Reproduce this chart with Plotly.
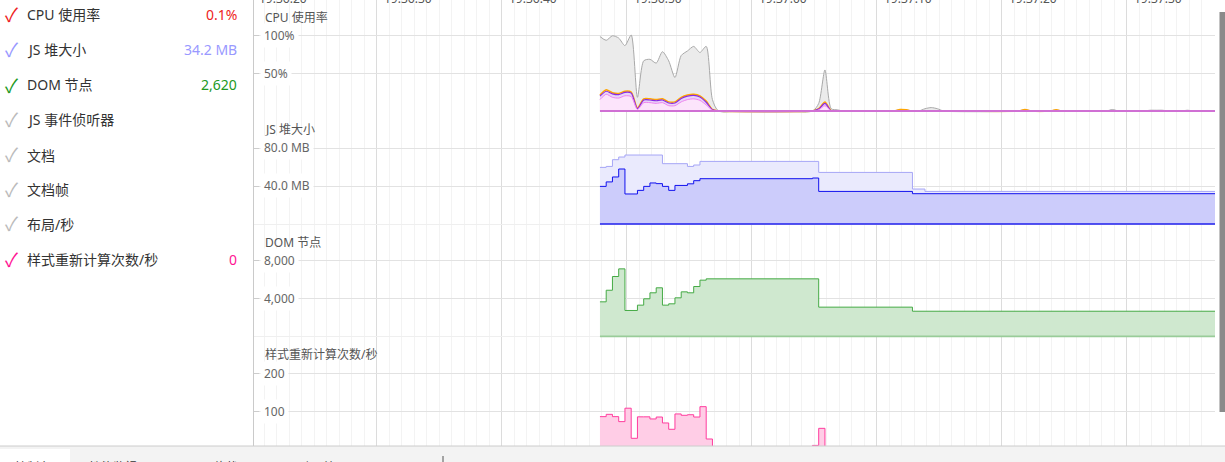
import plotly.graph_objects as go

W, H = 1225, 462

# ---------------- data ----------------
# time in seconds after 19:36:20
time_ticks = [0, 10, 20, 30, 40, 50, 60, 70]
time_labels = ["19:36:20", "19:36:30", "19:36:40", "19:36:50",
               "19:37:00", "19:37:10", "19:37:20", "19:37:30"]

cpu_t = [27.86, 28.36, 28.86, 29.36, 29.86, 30.36, 30.86, 31.36, 31.86, 32.36,
         32.86, 33.36, 33.86, 34.36, 34.86, 35.36, 35.86, 36.36, 36.86, 37.36,
         44.86, 45.36, 45.86, 46.36, 46.86, 47.36,
         51.36, 51.86, 52.36, 52.86, 53.36, 53.86, 54.36, 54.86, 55.36,
         61.36, 61.86, 62.36, 63.86, 64.36, 64.86, 68.36, 68.86, 69.36,
         71.36, 71.86, 72.36, 72.86, 73.36, 74.36, 74.86, 75.36, 77.1]
cpu_total = [98, 93, 99, 96, 86, 100, 18, 66, 68, 63,
             78, 66, 44, 73, 79, 85, 77, 85, 15, 0,
             0, 10, 54, 3, 1.5, 0,
             0, 2, 1.5, 0, 0, 3, 4.5, 3, 0,
             0, 2, 0, 0, 1.5, 0, 0, 2, 0,
             0, 1, 1, 1, 0, 0, 1, 0, 0]
cpu_script = [21, 28, 24, 23, 26, 25, 4, 16, 16, 15,
              16, 12, 12, 18, 21, 22, 20, 13, 2, 0,
              0, 3, 12, 0.5, 0, 0,
              0, 2, 1.5, 0, 0, 0, 0, 0, 0,
              0, 2, 0, 0, 1.5, 0, 0, 0, 0,
              0, 0, 0, 0, 0, 0, 0, 0, 0]
cpu_layout = [19.5, 26, 22.5, 21.5, 24.5, 23.5, 3, 14.5, 14.5, 13.5,
              14.5, 10.5, 10.5, 16.5, 19.5, 20.5, 18.5, 11.5, 1.5, 0,
              0, 2.5, 10, 0, 0, 0,
              0, 0, 0, 0, 0, 0, 0, 0, 0,
              0, 0, 0, 0, 0, 0, 0, 0, 0,
              0, 0, 0, 0, 0, 0, 0, 0, 0]
cpu_style = [15, 22, 18, 17, 20, 19, 2, 11, 11, 10,
             11, 7, 7, 12, 15, 16, 14, 8, 1, 0,
             0, 1.5, 7, 0, 0, 0,
             0, 0, 0, 0, 0, 0, 0, 0, 0,
             0, 0, 0, 0, 0, 0, 0, 0, 0,
             0, 0, 0, 0, 0, 0, 0, 0, 0]

heap_used_t = [27.86, 28.36, 28.86, 29.36, 29.86, 30.86, 31.36, 31.86, 32.36, 32.86,
               33.36, 33.86, 34.86, 35.36, 35.86, 44.86, 45.36, 52.86, 77.1]
heap_used = [39.6, 44.3, 49.5, 57.9, 31.6, 35.4, 39.6, 43.2, 42.5, 39.6,
             35.4, 40.6, 42.3, 45.6, 47.7, 48.4, 34.3, 31.9, 31.9]
heap_total_t = [27.86, 28.36, 28.86, 29.36, 29.86, 32.86, 34.86, 35.36, 35.86,
                45.36, 52.86, 53.86, 77.1]
heap_total = [59.6, 60.6, 67.7, 70.5, 72.6, 63.5, 60.6, 62.1, 65.9,
              54.3, 36.8, 34.3, 34.3]

dom_t = [27.86, 28.36, 28.86, 29.36, 29.86, 30.86, 31.36, 31.86, 32.36, 32.86,
         33.36, 33.86, 34.36, 34.86, 35.36, 35.86, 36.36, 45.36, 52.86, 77.1]
dom_nodes = [3650, 4870, 6315, 7120, 2740, 3300, 3970, 4600, 5125, 3300,
             3440, 4070, 4700, 4600, 5260, 5930, 6070, 3090, 2660, 2660]

style_t = [27.86, 28.36, 28.86, 29.36, 29.86, 30.36, 30.86, 31.36, 31.86, 32.36,
           32.86, 33.36, 33.86, 34.36, 34.86, 35.36, 35.86, 36.36, 36.86,
           44.86, 45.36, 45.86, 77.1]
style_rate = [87, 93, 87, 74, 109, 30.5, 86.5, 86.5, 81, 86,
              70.5, 54, 94, 90.5, 92, 86, 113, 28.7, 0,
              12, 56.5, 0, 0]

sidebar_labels = ["CPU 使用率", "JS 堆大小", "DOM 节点", "JS 事件侦听器",
                  "文档", "文档帧", "布局/秒", "样式重新计算次数/秒"]
sidebar_values = ["0.1%", "34.2 MB", "2,620", "", "", "", "", "0"]
sidebar_colors = ["#ee2222", "#9999ff", "#229922", "#bbbbbb",
                  "#bbbbbb", "#bbbbbb", "#bbbbbb", "#ff1493"]

panel_titles = ["CPU 使用率", "JS 堆大小", "DOM 节点", "样式重新计算次数/秒"]
panel_tickvals = [[50, 100], [40, 80], [4000, 8000], [100, 200]]
panel_ticktext = [["50%", "100%"], ["40.0 MB", "80.0 MB"],
                  ["4,000", "8,000"], ["100", "200"]]

tab_labels = ["控制台", "性能监视器", "网络状况", "动画效果", "»"]

# ---------------- geometry (pixels) ----------------
FONT = "Noto Sans, Noto Sans CJK SC, DejaVu Sans"
X_LEFT, X_RIGHT = 253.5, 1215
T_AT_0, PX_PER_S = 251.7, 12.5
x_range = [(X_LEFT - T_AT_0) / PX_PER_S, (X_RIGHT - T_AT_0) / PX_PER_S]

# top, bottom, baseline, ref value, ref pixel
panels = [
    (0, 112.5, 111, 100, 35),
    (112.5, 225, 224, 80, 148),
    (225, 337.5, 336.5, 8000, 260.5),
    (337.5, 452, 450, 200, 373.3),
]
title_py = [17, 129, 242, 354]


def px(x):
    return x / W


def py(y):
    return 1 - y / H


fig = go.Figure()

# CPU
cpu_series = [
    (cpu_total, "#a8a8a8", "#ebebeb", 1),
    (cpu_script, "#ffa500", "#ffedcc", 1.5),
    (cpu_layout, "#8a2be2", "#e8d5f9", 1.2),
    (cpu_style, "#ee82ee", "#fce4fb", 1),
]
for vals, lc, fc, lw in cpu_series:
    fig.add_trace(go.Scatter(x=cpu_t, y=vals, mode="lines", fill="tozeroy",
                             line=dict(color=lc, width=lw, shape="spline", smoothing=0.7),
                             fillcolor=fc, xaxis="x", yaxis="y", hoverinfo="skip"))
fig.add_trace(go.Scatter(x=[cpu_t[0], cpu_t[-1]], y=[0, 0], mode="lines",
                         line=dict(color="#d070d4", width=1.8), xaxis="x", yaxis="y"))

# JS heap
fig.add_trace(go.Scatter(x=heap_total_t, y=heap_total, mode="lines", fill="tozeroy",
                         line=dict(color="#a6a6f6", width=1, shape="hv"),
                         fillcolor="#eaeafd", xaxis="x2", yaxis="y2"))
fig.add_trace(go.Scatter(x=heap_used_t, y=heap_used, mode="lines", fill="tozeroy",
                         line=dict(color="#1010ee", width=1, shape="hv"),
                         fillcolor="#ccccfb", xaxis="x2", yaxis="y2"))
fig.add_trace(go.Scatter(x=[heap_used_t[0], heap_used_t[-1]], y=[0, 0], mode="lines",
                         line=dict(color="#2020ee", width=1.5), xaxis="x2", yaxis="y2"))

# DOM nodes
fig.add_trace(go.Scatter(x=dom_t, y=dom_nodes, mode="lines", fill="tozeroy",
                         line=dict(color="#44aa44", width=1, shape="hv"),
                         fillcolor="#cfe8cf", xaxis="x3", yaxis="y3"))
fig.add_trace(go.Scatter(x=[dom_t[0], dom_t[-1]], y=[0, 0], mode="lines",
                         line=dict(color="#99cc99", width=2), xaxis="x3", yaxis="y3"))

# Style recalcs
fig.add_trace(go.Scatter(x=style_t, y=style_rate, mode="lines", fill="tozeroy",
                         line=dict(color="#ff3d9e", width=1, shape="hv"),
                         fillcolor="#ffcde6", xaxis="x4", yaxis="y4"))

layout = dict(
    width=W, height=H, margin=dict(l=0, r=0, t=0, b=0),
    paper_bgcolor="white", plot_bgcolor="white", showlegend=False,
    font=dict(family=FONT, size=12, color="#555"),
)

annotations = []
for i, (top, bot, base, rv, rp) in enumerate(panels):
    scale = (base - rp) / rv
    r0 = -(bot - base) / scale
    r1 = (base - top) / scale
    sfx = "" if i == 0 else str(i + 1)
    layout["xaxis" + sfx] = dict(
        domain=[px(X_LEFT), px(X_RIGHT)], range=x_range, anchor="y" + sfx,
        showticklabels=False, ticks="", showline=False, zeroline=False,
        showgrid=True, gridcolor="#dcdcdc", gridwidth=1, tick0=0, dtick=10,
        minor=dict(dtick=1, tick0=0, showgrid=True, gridcolor="#f3f3f3", gridwidth=1),
    )
    layout["yaxis" + sfx] = dict(
        domain=[py(bot), py(top)], range=[r0, r1], anchor="x" + sfx,
        tickvals=panel_tickvals[i], showticklabels=False,
        ticks="inside", ticklen=5, tickcolor="#cccccc",
        showgrid=True, gridcolor="#e2e2e2", gridwidth=1,
        zeroline=(i in (1, 2)), zerolinecolor="#efefef", zerolinewidth=1,
        showline=False,
    )
    annotations.append(dict(text=panel_titles[i], x=px(263), y=py(title_py[i]),
                            xref="paper", yref="paper", xanchor="left", yanchor="middle",
                            showarrow=False, font=dict(size=12, color="#555")))
    for v, t in zip(panel_tickvals[i], panel_ticktext[i]):
        annotations.append(dict(text=t, x=px(260), y=v, xref="paper", yref="y" + sfx,
                                xanchor="left", yanchor="middle", showarrow=False,
                                bgcolor="white", borderpad=3,
                                font=dict(size=12, color="#666")))

for tv, tl in zip(time_ticks, time_labels):
    annotations.append(dict(text=tl, x=px(T_AT_0 + tv * PX_PER_S + 5), y=py(-1.5),
                            xref="paper", yref="paper",
                            xanchor="left", yanchor="middle", showarrow=False,
                            font=dict(size=12, color="#555")))

side_y = [15, 49, 85, 119, 155, 189, 224, 259]
for lab, val, col, yy in zip(sidebar_labels, sidebar_values, sidebar_colors, side_y):
    annotations.append(dict(text="✓", x=px(3), y=py(yy - 1), xref="paper", yref="paper",
                            xanchor="left", yanchor="middle", showarrow=False,
                            font=dict(size=19, color=col, family="Noto Sans CJK SC")))
    annotations.append(dict(text=lab, x=px(25), y=py(yy), xref="paper", yref="paper",
                            xanchor="left", yanchor="middle", showarrow=False,
                            font=dict(size=14, color="#333")))
    if val:
        annotations.append(dict(text=val, x=px(239), y=py(yy), xref="paper", yref="paper",
                                xanchor="right", yanchor="middle", showarrow=False,
                                font=dict(size=14, color=col)))

tab_x = [13, 87, 200, 297, 398]
for tl, tx in zip(tab_labels, tab_x):
    annotations.append(dict(text=tl, x=px(tx), y=py(467), xref="paper", yref="paper",
                            xanchor="left", yanchor="middle", showarrow=False,
                            font=dict(size=12, color="#333")))

layout["annotations"] = annotations

shapes = [
    # sidebar separator
    dict(type="line", xref="paper", yref="paper", x0=px(253.5), x1=px(253.5),
         y0=py(0), y1=py(446), line=dict(color="#cacaca", width=1), layer="above"),
    # scrollbar thumb
    dict(type="rect", xref="paper", yref="paper", x0=px(1219.5), x1=px(1225),
         y0=py(12), y1=py(412), fillcolor="#8a8a8a", line=dict(width=0), layer="above"),
    # bottom tab bar
    dict(type="rect", xref="paper", yref="paper", x0=0, x1=1, y0=0, y1=py(446),
         fillcolor="#f3f3f3", line=dict(width=0), layer="above"),
    dict(type="rect", xref="paper", yref="paper", x0=0, x1=px(70), y0=0, y1=py(449),
         fillcolor="#ffffff", line=dict(width=0), layer="above"),
    dict(type="line", xref="paper", yref="paper", x0=0, x1=1, y0=py(446), y1=py(446),
         line=dict(color="#cccccc", width=1), layer="above"),
    dict(type="line", xref="paper", yref="paper", x0=px(443), x1=px(443),
         y0=py(456), y1=0, line=dict(color="#555555", width=1), layer="above"),
]
layout["shapes"] = shapes

fig.update_layout(**layout)
fig.write_html("out.html")
